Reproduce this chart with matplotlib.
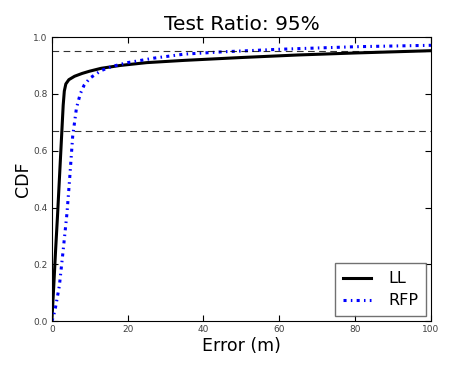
import numpy as np
import matplotlib
matplotlib.use("Agg")
import matplotlib.pyplot as plt

# CDF curves
ll_x = [0, 0.5, 1, 1.5, 2, 2.5, 3, 3.3, 3.7, 4.5, 6, 8, 10, 13, 18, 25, 35, 50, 65, 80, 100]
ll_y = [0, 0.12, 0.25, 0.37, 0.50, 0.63, 0.76, 0.81, 0.835, 0.85, 0.862, 0.872, 0.88,
        0.89, 0.90, 0.91, 0.918, 0.928, 0.937, 0.944, 0.952]
rfp_x = [0, 0.4, 1, 2, 3, 4, 4.7, 5.5, 6.5, 7.5, 8.5, 10, 13, 16, 20, 27, 35, 45, 60, 80, 100]
rfp_y = [0, 0.015, 0.05, 0.125, 0.25, 0.38, 0.5, 0.65, 0.75, 0.80, 0.83, 0.855, 0.882,
         0.897, 0.91, 0.926, 0.94, 0.948, 0.957, 0.966, 0.971]
ref_levels = [0.95, 0.67]

fig = plt.figure(figsize=(4.71, 3.67), dpi=100)
ax = fig.add_axes([0.110, 0.125, 0.805, 0.774])

ax.plot(ll_x, ll_y, color="black", lw=2.2, label="LL")
ax.plot(rfp_x, rfp_y, color="blue", lw=2.2, ls=(0, (1.0, 1.4, 0.5, 1.4)), label="RFP")
for lv in ref_levels:
    ax.axhline(lv, color="black", lw=0.8, ls=(0, (6, 4)), alpha=0.8)

ax.set_xlim(0, 100)
ax.set_ylim(0, 1.0)
ax.set_xticks([0, 20, 40, 60, 80, 100])
ax.set_yticks([0.0, 0.2, 0.4, 0.6, 0.8, 1.0])
ax.tick_params(direction="in", labelsize=6.5, labelcolor="0.25", top=True, right=True,
               length=4, pad=3)
ax.set_xlabel("Error (m)", fontsize=12.5, labelpad=2)
ax.set_ylabel("CDF", fontsize=12.5, labelpad=1)
ax.set_title("Test Ratio: 95%", fontsize=14.5, pad=5)

leg = ax.legend(loc="lower right", fontsize=11.5, handlelength=1.7, fancybox=False,
                borderpad=0.5, labelspacing=0.45, handletextpad=1.1, borderaxespad=0.3)
leg.get_frame().set_edgecolor("0.3")
leg.get_frame().set_linewidth(1.0)

fig.savefig("out.png", dpi=100, facecolor="white")
